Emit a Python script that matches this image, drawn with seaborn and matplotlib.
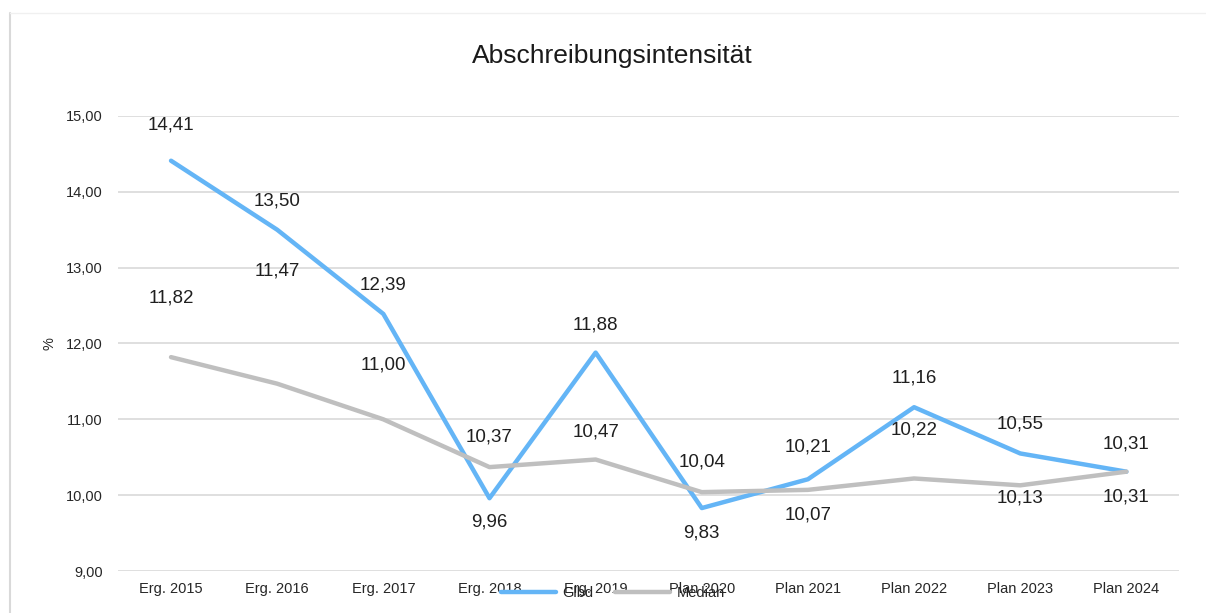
import matplotlib
matplotlib.use("Agg")
from matplotlib import pyplot as plt
from matplotlib.lines import Line2D
import seaborn as sns
import pandas as pd

jahre = ["Erg. 2015", "Erg. 2016", "Erg. 2017", "Erg. 2018", "Erg. 2019",
         "Plan 2020", "Plan 2021", "Plan 2022", "Plan 2023", "Plan 2024"]
glbd = [14.41, 13.50, 12.39, 9.96, 11.88, 9.83, 10.21, 11.16, 10.55, 10.31]
median = [11.82, 11.47, 11.00, 10.37, 10.47, 10.04, 10.07, 10.22, 10.13, 10.31]

# label offsets in pixels (up positive), as placed in the original
off_glbd = [36, 29, 29, -24, 28, -25, 32, 29, 29, 28]
off_median = [59, 113, 54, 30, 28, 30, -25, 48, -13, -25]

sns.set_theme(style="white")
plt.rcParams['font.family'] = ['Liberation Sans', 'DejaVu Sans']

df = pd.DataFrame({
    "Jahr": jahre * 2,
    "Wert": glbd + median,
    "Reihe": ["Glbd"] * len(jahre) + ["Median"] * len(jahre),
})

fig = plt.figure(figsize=(12.06, 6.13), dpi=100)
ax = fig.add_axes([0.0978, 0.0685, 0.8802, 0.7423])

sns.lineplot(data=df, x="Jahr", y="Wert", hue="Reihe", sort=False,
             palette={"Glbd": "#64b5f6", "Median": "#bfbfbf"},
             linewidth=3.2, ax=ax, legend=False)

for vals, offs in [(glbd, off_glbd), (median, off_median)]:
    for i, (v, o) in enumerate(zip(vals, offs)):
        ax.annotate(f"{v:.2f}".replace(".", ","), (i, v), xytext=(0, o),
                    textcoords="offset pixels", ha="center", va="center",
                    fontsize=13.5, color="#1f1f1f")

ax.set_xlim(-0.5, len(jahre) - 0.5)
ax.set_ylim(9, 15)
ax.set_yticks(range(9, 16))
ax.set_yticklabels([f"{t},00" for t in range(9, 16)])
ax.yaxis.grid(True, color="#d9d9d9", linewidth=1.2)
ax.xaxis.grid(False)
for s in ax.spines.values():
    s.set_visible(False)
ax.tick_params(axis="both", labelsize=10.5, colors="#262626", length=0)
ax.tick_params(axis="y", pad=11)
ax.tick_params(axis="x", pad=8)
ax.set_xlabel("")
ax.set_ylabel("%", fontsize=10.5, color="#262626", labelpad=7)

fig.text(0.508, 0.908, "Abschreibungsintensität", ha="center", va="center",
         fontsize=19, color="#1a1a1a")

handles = [Line2D([], [], color="#64b5f6", lw=3.2),
           Line2D([], [], color="#bfbfbf", lw=3.2)]
fig.legend(handles, ["Glbd", "Median"], loc="center", ncol=2,
           bbox_to_anchor=(0.508, 0.033), frameon=False, fontsize=10.5,
           handlelength=3.8, columnspacing=1.5, handletextpad=0.4)

# chart frame remnants
fig.add_artist(Line2D([0.0083, 0.0083], [0, 0.979], color="#d9d9d9", lw=1.5,
                      transform=fig.transFigure))
fig.add_artist(Line2D([0.0083, 1], [0.979, 0.979], color="#f0f0f0", lw=1,
                      transform=fig.transFigure))

fig.savefig("out.png", dpi=100)
